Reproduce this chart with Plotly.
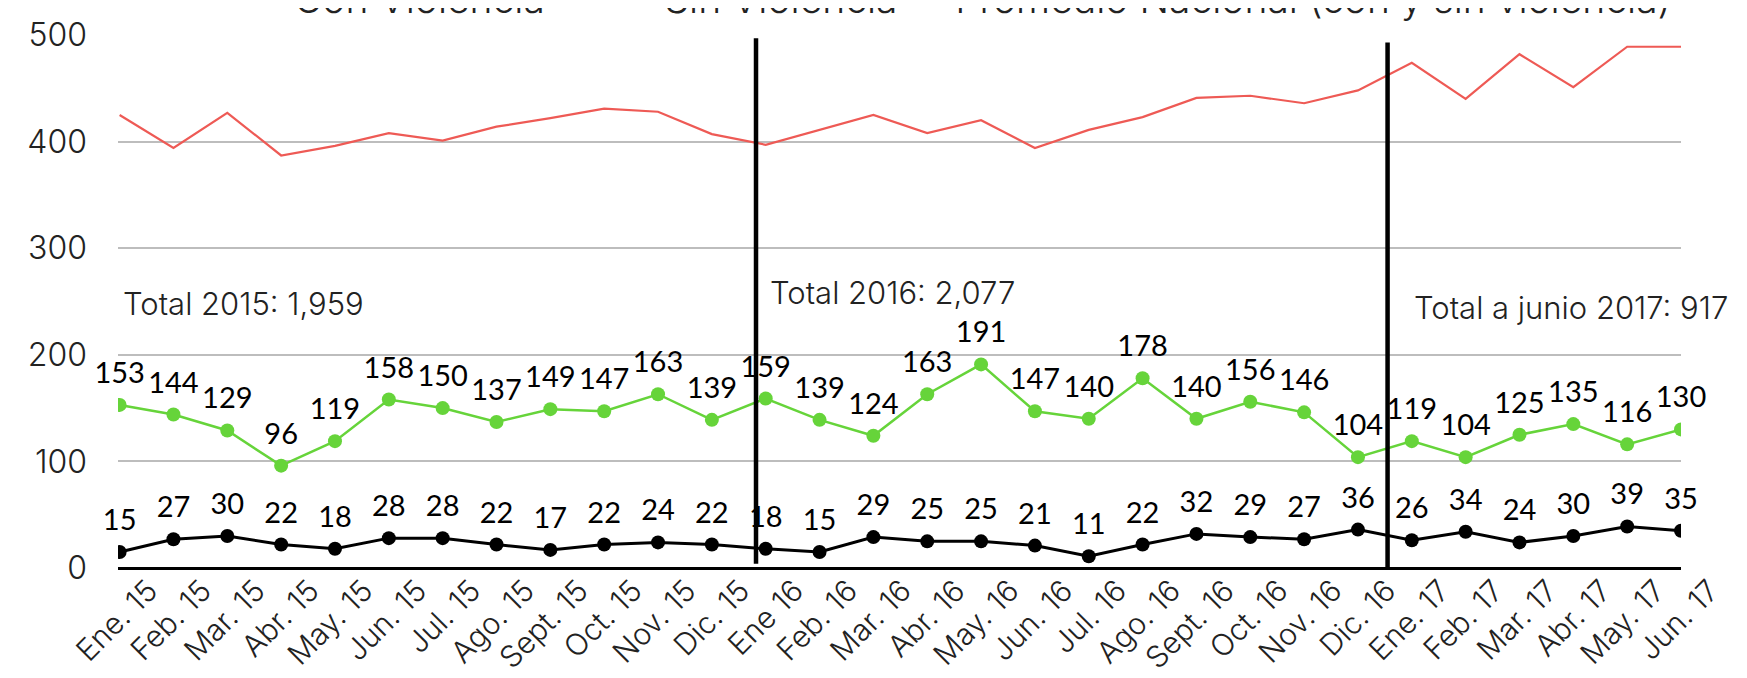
import plotly.graph_objects as go

months = ["Ene. 15", "Feb. 15", "Mar. 15", "Abr. 15", "May. 15", "Jun. 15", "Jul. 15",
          "Ago. 15", "Sept. 15", "Oct. 15", "Nov. 15", "Dic. 15",
          "Ene 16", "Feb. 16", "Mar. 16", "Abr. 16", "May. 16", "Jun. 16", "Jul. 16",
          "Ago. 16", "Sept. 16", "Oct. 16", "Nov. 16", "Dic. 16",
          "Ene. 17", "Feb. 17", "Mar. 17", "Abr. 17", "May. 17", "Jun. 17"]

con_violencia = [15, 27, 30, 22, 18, 28, 28, 22, 17, 22, 24, 22,
                 18, 15, 29, 25, 25, 21, 11, 22, 32, 29, 27, 36,
                 26, 34, 24, 30, 39, 35]
sin_violencia = [153, 144, 129, 96, 119, 158, 150, 137, 149, 147, 163, 139,
                 159, 139, 124, 163, 191, 147, 140, 178, 140, 156, 146, 104,
                 119, 104, 125, 135, 116, 130]
promedio = [425, 394, 427, 387, 396, 408, 401, 414, 422, 431, 428, 407,
            397, 411, 425, 408, 420, 394, 411, 423, 441, 443, 436, 448,
            474, 440, 482, 451, 489, 489]

totals_text = ["Total 2015: 1,959", "Total 2016: 2,077", "Total a junio 2017: 917"]
totals_x = [0.02, 12.05, 24.0]
totals_y = [248, 258, 244]

dividers_x = [11.82, 23.55]
dividers_top = [497, 493]
dividers_bottom = [4, 0]

xs = list(range(len(months)))

BLACK = "#000000"
GREEN = "#66D43A"
RED = "#EE5A55"
FONT = "Inter"
LABEL_FONT = "Lato"
TXT = "#222222"

fig = go.Figure()

# average line (shown in its own legend box)
fig.add_trace(go.Scatter(
    x=xs, y=promedio, mode="lines", name="Promedio Nacional (con y sin violencia)",
    line=dict(color=RED, width=2.2), legend="legend3", hoverinfo="skip"))

# connecting lines
fig.add_trace(go.Scatter(
    x=xs, y=sin_violencia, mode="lines", line=dict(color=GREEN, width=2.5),
    showlegend=False, hoverinfo="skip"))
fig.add_trace(go.Scatter(
    x=xs, y=con_violencia, mode="lines", line=dict(color=BLACK, width=3),
    showlegend=False, hoverinfo="skip"))

# point markers (these also provide the legend dots)
fig.add_trace(go.Scatter(
    x=xs, y=sin_violencia, mode="markers", name="Sin Violencia",
    marker=dict(color=GREEN, size=14), legend="legend2"))
fig.add_trace(go.Scatter(
    x=xs, y=con_violencia, mode="markers", name="Con Violencia",
    marker=dict(color=BLACK, size=14), legend="legend"))

# value labels
for vals in (sin_violencia, con_violencia):
    fig.add_trace(go.Scatter(
        x=xs, y=vals, mode="text+markers", marker=dict(size=22, color="rgba(0,0,0,0)"),
        text=[str(v) for v in vals], textposition="top center", cliponaxis=False,
        textfont=dict(family=LABEL_FONT, size=29, color="#000000"),
        showlegend=False, hoverinfo="skip"))

for xv, top, bot in zip(dividers_x, dividers_top, dividers_bottom):
    fig.add_shape(type="line", xref="x", yref="y", x0=xv, x1=xv, y0=bot, y1=top,
                  line=dict(color="black", width=4.5))

for t, xv, yv in zip(totals_text, totals_x, totals_y):
    fig.add_annotation(x=xv, y=yv, xref="x", yref="y", text=t, showarrow=False,
                       xanchor="left", yanchor="middle",
                       font=dict(family=FONT, size=31, color=TXT, weight=300))

leg_common = dict(orientation="h", xanchor="left", y=1.069, yanchor="middle",
                  font=dict(family=FONT, size=39, color=TXT, weight=300),
                  bgcolor="rgba(0,0,0,0)")

fig.update_layout(
    width=1747, height=678,
    margin=dict(l=110, r=74, t=27, b=118, autoexpand=False),
    paper_bgcolor="white", plot_bgcolor="white",
    font=dict(family=FONT, color=TXT),
    legend=dict(x=0.087, **leg_common),
    legend2=dict(x=0.324, **leg_common),
    legend3=dict(x=0.510, **leg_common),
    xaxis=dict(
        range=[-0.03, 29.0], tickmode="array", tickvals=xs, ticktext=months,
        tickangle=-45, showgrid=False, zeroline=False, showline=False,
        ticks="", ticklabelstandoff=-2, ticklabelshift=29,
        tickfont=dict(family=FONT, size=30, color=TXT, weight=300)),
    yaxis=dict(
        range=[0, 500], tickmode="array", tickvals=[0, 100, 200, 300, 400, 500],
        showgrid=True, gridcolor="#BDBDBD", gridwidth=2,
        zeroline=True, zerolinecolor="black", zerolinewidth=3,
        showline=False, ticks="", ticklabelstandoff=30,
        tickfont=dict(family=FONT, size=32, color=TXT, weight=300)),
)

fig.write_html("out.html")
